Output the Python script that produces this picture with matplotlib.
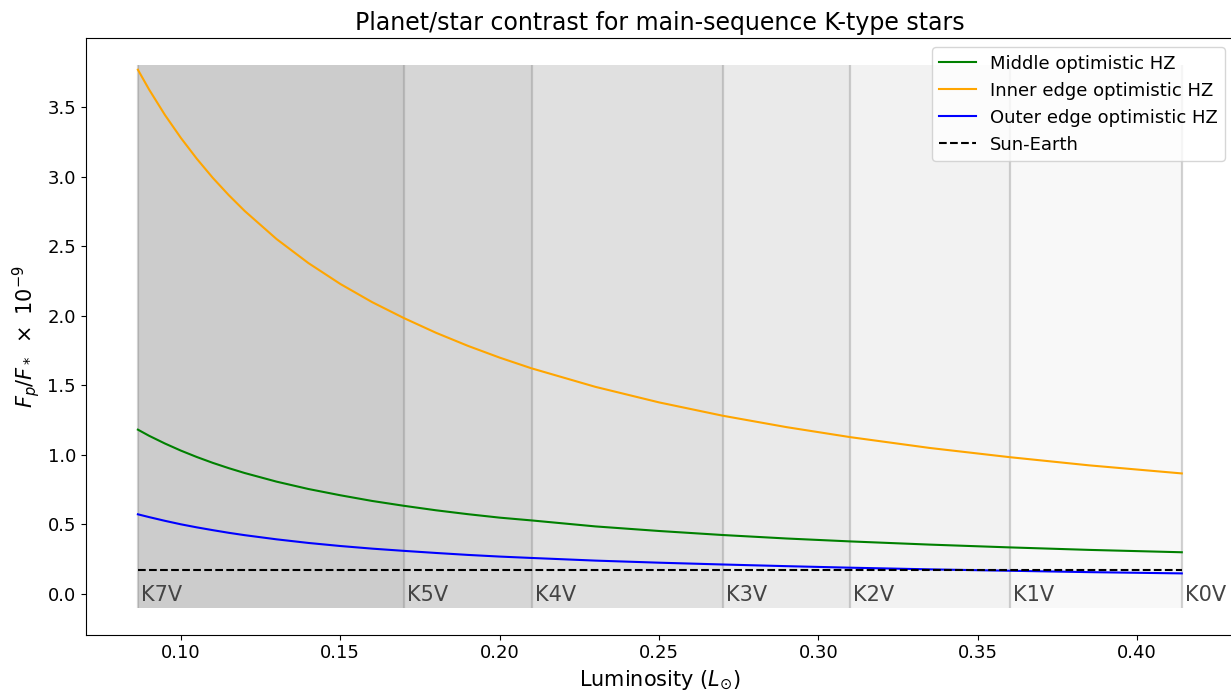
import matplotlib
matplotlib.use("Agg")
import matplotlib.pyplot as plt

# Spectral-type boundaries (luminosity, L_sun) and labels
types = ["K7V", "K5V", "K4V", "K3V", "K2V", "K1V", "K0V"]
type_lum = [0.0865, 0.17, 0.21, 0.27, 0.31, 0.36, 0.414]
band_colors = ["#cccccc", "#d6d6d6", "#e0e0e0", "#eaeaea", "#f2f2f2", "#f8f8f8"]

lum = [0.0865, 0.09, 0.095, 0.10, 0.105, 0.11, 0.115, 0.12, 0.13, 0.14, 0.15, 0.16, 0.17,
       0.18, 0.19, 0.20, 0.21, 0.23, 0.25, 0.27, 0.29, 0.31, 0.335, 0.36, 0.385, 0.414]
middle = [1.180, 1.136, 1.080, 1.029, 0.983, 0.941, 0.903, 0.868, 0.806, 0.753, 0.708, 0.667,
          0.632, 0.600, 0.572, 0.547, 0.527, 0.484, 0.451, 0.422, 0.397, 0.376, 0.353, 0.333,
          0.315, 0.298]
inner = [3.769, 3.627, 3.443, 3.278, 3.128, 2.991, 2.867, 2.753, 2.551, 2.378, 2.228, 2.097,
         1.982, 1.877, 1.783, 1.698, 1.621, 1.488, 1.376, 1.280, 1.198, 1.126, 1.048, 0.982,
         0.923, 0.865]
outer = [0.571, 0.551, 0.524, 0.499, 0.477, 0.457, 0.438, 0.421, 0.391, 0.365, 0.343, 0.324,
         0.308, 0.293, 0.279, 0.267, 0.257, 0.238, 0.223, 0.210, 0.198, 0.187, 0.175, 0.165,
         0.155, 0.146]
sun_earth = 0.172

band_bottom, band_top = -0.1, 3.8

fig = plt.figure(figsize=(12.31, 6.91), dpi=100)
ax = fig.add_axes([85.7 / 1231, (691 - 634.7) / 691, (1234 - 85.7) / 1231, (634.7 - 38.3) / 691])

for i in range(len(band_colors)):
    ax.fill_between([type_lum[i], type_lum[i + 1]], band_bottom, band_top,
                    color=band_colors[i], lw=0, zorder=0)
ax.vlines(type_lum, band_bottom, band_top, colors="grey", alpha=0.35, lw=1.6, zorder=1)
for name, x in zip(types, type_lum):
    ax.text(x + 0.001, -0.055, name, fontsize=15, color="#444444", va="baseline", ha="left",
            zorder=2)

ax.plot(lum, middle, color="green", lw=1.5, label="Middle optimistic HZ", zorder=3)
ax.plot(lum, inner, color="orange", lw=1.5, label="Inner edge optimistic HZ", zorder=3)
ax.plot(lum, outer, color="blue", lw=1.5, label="Outer edge optimistic HZ", zorder=3)
ax.plot([type_lum[0], type_lum[-1]], [sun_earth, sun_earth], color="black", ls="--", lw=1.5,
        label="Sun-Earth", zorder=3)

ax.set_title("Planet/star contrast for main-sequence K-type stars", fontsize=17)
ax.set_xlabel(r"Luminosity ($L_{\odot}$)", fontsize=15)
ax.set_ylabel(r"$F_p/F_* \ \times \ 10^{-9}$", fontsize=15)
ax.tick_params(labelsize=13)
ax.legend(loc="upper right", fontsize=13)

fig.savefig("out.png", dpi=100)
